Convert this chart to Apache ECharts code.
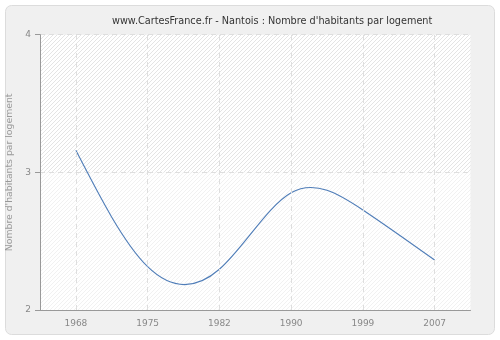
<!DOCTYPE html>
<html><head><meta charset="utf-8">
<script src="https://cdn.jsdelivr.net/npm/echarts@6/dist/echarts.min.js"></script>
<style>html,body{margin:0;padding:0;background:#fff}#c{width:500px;height:340px}</style>
</head><body><div id="c"></div>
<script>
var years = ['1968','1975','1982','1990','1999','2007'];
var values = [3.16, 2.315, 2.296, 2.852, 2.727, 2.363];
var yTicks = [2, 3, 4];

// natural cubic spline second derivatives (equal spacing) used to render the smooth line
function splineM(y){
  var n = y.length, M = new Array(n).fill(0);
  if (n < 3) return M;
  var c = [], d = [];
  for (var i = 1; i < n-1; i++){
    var rhs = 6*(y[i+1] - 2*y[i] + y[i-1]);
    if (i === 1){ c[i] = 1/4; d[i] = rhs/4; }
    else { var den = 4 - c[i-1]; c[i] = 1/den; d[i] = (rhs - d[i-1])/den; }
  }
  M[n-2] = d[n-2];
  for (var j = n-3; j >= 1; j--) M[j] = d[j] - c[j]*M[j+1];
  return M;
}
var M = splineM(values);

function hatch(lineColor){
  var c = document.createElement('canvas');
  c.width = 4; c.height = 4;
  var g = c.getContext('2d');
  g.fillStyle = '#ffffff'; g.fillRect(0,0,4,4);
  g.strokeStyle = lineColor; g.lineWidth = 1;
  g.beginPath();
  g.moveTo(-1,5); g.lineTo(5,-1);
  g.moveTo(-1,1); g.lineTo(1,-1);
  g.moveTo(3,5); g.lineTo(5,3);
  g.stroke();
  return {image: c, repeat: 'repeat'};
}

var chart = echarts.init(document.getElementById('c'), null, {renderer:'canvas'});
chart.setOption({
  backgroundColor: 'transparent',
  animation: false,
  graphic: [{type:'rect', shape:{x:5.5,y:5.5,width:489,height:329,r:6}, style:{fill:'#f0f0f0',stroke:'#dcdcdc',lineWidth:1}, z:-10}],
  title: {text: 'www.CartesFrance.fr - Nantois : Nombre d\'habitants par logement', left: 107, top: 11,
    textStyle:{fontFamily:'DejaVu Sans', fontSize:9.7, fontWeight:'normal', color:'#333'}},
  grid: {left: 40, right: 29.5, top: 34.7, bottom: 30, containLabel:false, outerBoundsMode:'none'},
  xAxis: {type:'category', data: years, boundaryGap:true,
    axisLine:{lineStyle:{color:'#999'}},
    axisTick:{alignWithLabel:true, length:5, lineStyle:{color:'#999'}},
    axisLabel:{color:'#888', fontFamily:'DejaVu Sans', fontSize:9, margin:9},
    splitLine:{show:false}
  },
  yAxis: {type:'value', min:yTicks[0], max:yTicks[yTicks.length-1], interval:1,
    name:'Nombre d\'habitants par logement', nameLocation:'middle', nameGap:24,
    nameTextStyle:{color:'#999', fontFamily:'DejaVu Sans', fontSize:9.3},
    axisLine:{show:true, lineStyle:{color:'#999'}},
    axisTick:{show:true, length:5, lineStyle:{color:'#999'}},
    axisLabel:{color:'#888', fontFamily:'DejaVu Sans', fontSize:9, margin:9},
    splitLine:{show:true, lineStyle:{color:'#dedede', type:[5,4]}},
    splitArea:{show:true, areaStyle:{color:[hatch('#f1f1f1'), hatch('#e4e4e4')]}}
  },
  series: [{
    type:'custom',
    data: values.map(function(v,i){ return [i, v]; }),
    encode:{x:0, y:1},
    clip:false,
    renderItem: function(params, api){
      var i = params.dataIndex;
      if (i >= values.length - 1) return null;
      var y0 = values[i], y1 = values[i+1];
      var d0 = (y1 - y0) - (2*M[i] + M[i+1])/6;
      var d1 = (y1 - y0) + (M[i] + 2*M[i+1])/6;
      var p0 = api.coord([i, y0]);
      var p3 = api.coord([i+1, y1]);
      var c1y = api.coord([i, y0 + d0/3])[1];
      var c2y = api.coord([i, y1 - d1/3])[1];
      var dx = p3[0] - p0[0];
      var path = 'M' + p0[0] + ' ' + p0[1] +
        ' C' + (p0[0] + dx/3) + ' ' + c1y + ' ' + (p3[0] - dx/3) + ' ' + c2y + ' ' + p3[0] + ' ' + p3[1];
      return {type:'path', shape:{pathData: path}, style:{fill:'none', stroke:'#4f7db8', lineWidth:1.1}};
    },
    markLine:{silent:true, symbol:'none', label:{show:false},
      lineStyle:{color:'#dedede', type:[5,4], width:1},
      data: years.map(function(y){ return {xAxis: y}; })
    },
    z: 3
  }]
});
</script></body></html>
